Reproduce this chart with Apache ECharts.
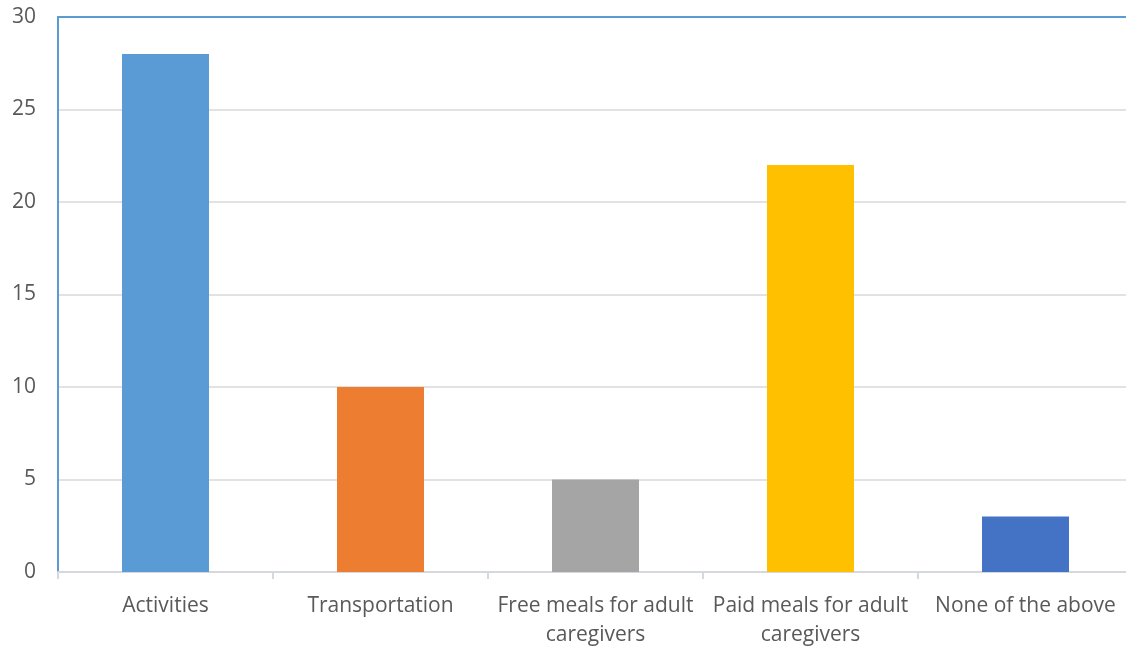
<!DOCTYPE html>
<html>
<head>
<meta charset="utf-8">
<script src="https://cdn.jsdelivr.net/npm/echarts@6/dist/echarts.min.js"></script>
<style>
  html, body { margin: 0; padding: 0; background: #fff; }
  #chart { width: 1126px; height: 648px; }
</style>
</head>
<body>
<div id="chart"></div>
<script>
// Responses per category
const categories = ['Activities', 'Transportation', 'Free meals for adult\ncaregivers', 'Paid meals for adult\ncaregivers', 'None of the above'];
const values = [28, 10, 5, 22, 3];
const barColors = ['#5B9BD5', '#ED7D31', '#A5A5A5', '#FFC000', '#4472C4'];
const yTicks = { min: 0, max: 30, interval: 5 };

const font = '"Open Sans", sans-serif';
const chart = echarts.init(document.getElementById('chart'));
chart.setOption({
  animation: false,
  grid: { left: 58, top: 17, right: -7, bottom: 76, containLabel: false, outerBoundsMode: 'none' },
  xAxis: [{
    type: 'category',
    data: categories,
    axisLine: { lineStyle: { color: '#D5D9DF', width: 2 } },
    axisTick: { show: true, alignWithLabel: false, length: 7, lineStyle: { color: '#D5D9DF', width: 2 } },
    axisLabel: { color: '#595959', fontSize: 21, fontFamily: font, margin: 20, lineHeight: 29, interval: 0 }
  }, {
    type: 'category',
    position: 'top',
    data: categories,
    axisLine: { lineStyle: { color: '#5B9BD5', width: 2 } },
    axisTick: { show: false },
    axisLabel: { show: false }
  }],
  yAxis: {
    type: 'value',
    min: yTicks.min, max: yTicks.max, interval: yTicks.interval,
    axisLine: { show: true, lineStyle: { color: '#5B9BD5', width: 2 } },
    axisTick: { show: false },
    axisLabel: { color: '#595959', fontSize: 21, fontFamily: font, margin: 22 },
    splitLine: { lineStyle: { color: '#D9D9D9', width: 1.5 } }
  },
  series: [{
    type: 'bar',
    xAxisIndex: 0,
    barWidth: 87,
    data: values.map((v, i) => ({ value: v, itemStyle: { color: barColors[i] } }))
  }]
});
</script>
</body>
</html>
